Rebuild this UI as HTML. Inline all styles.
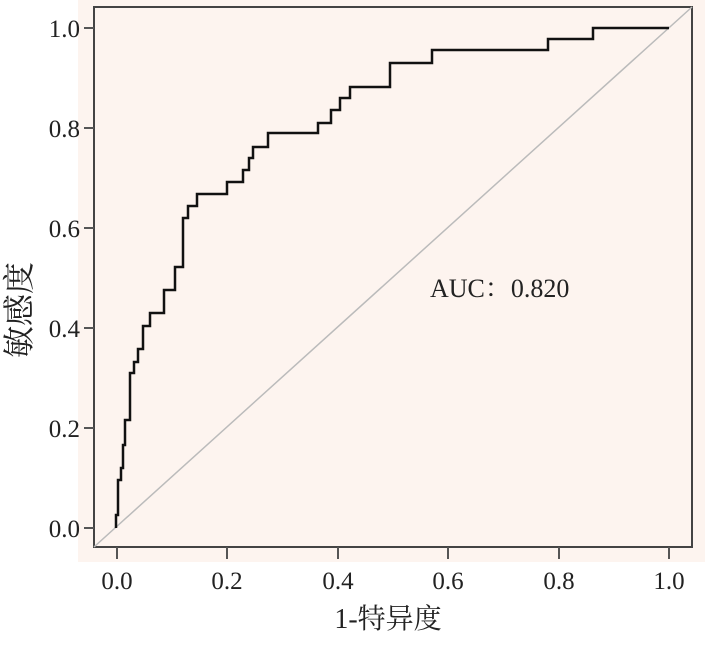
<!DOCTYPE html><html><head><meta charset="utf-8"><style>body{margin:0;background:#fff}svg text{font-family:"Liberation Serif","Noto Serif CJK SC",serif;fill:#222}</style></head><body>
<svg width="705" height="641" xmlns="http://www.w3.org/2000/svg">
<rect x="78" y="0" width="627" height="562" fill="#fdf4ef"/>
<rect x="94" y="7" width="598" height="540" fill="none" stroke="#444" stroke-width="2"/>
<line x1="94" y1="547" x2="692" y2="7" stroke="#bbb" stroke-width="1.5"/>
<polyline fill="none" stroke="#111" stroke-width="2.5" points="116,528 116,515 118,515 118,480 121,480 121,468 123,468 123,445 125,445 125,420 130,420 130,373 134,373 134,362 138,362 138,349 143,349 143,326 150,326 150,313 164,313 164,290 175,290 175,267 183,267 183,218 188,218 188,206 197,206 197,194 227,194 227,182 243,182 243,170 249,170 249,158 253,158 253,147 268,147 268,133 318,133 318,123 331,123 331,110 340,110 340,98 350,98 350,87 390,87 390,63 432,63 432,50 548,50 548,39 593,39 593,28 669,28"/>
<g stroke="#555" stroke-width="2">
<line x1="84" y1="28" x2="94" y2="28"/><line x1="84" y1="128" x2="94" y2="128"/><line x1="84" y1="228" x2="94" y2="228"/><line x1="84" y1="328" x2="94" y2="328"/><line x1="84" y1="428" x2="94" y2="428"/><line x1="84" y1="528" x2="94" y2="528"/>
<line x1="117" y1="547" x2="117" y2="559"/><line x1="227" y1="547" x2="227" y2="559"/><line x1="338" y1="547" x2="338" y2="559"/><line x1="448" y1="547" x2="448" y2="559"/><line x1="559" y1="547" x2="559" y2="559"/><line x1="669" y1="547" x2="669" y2="559"/>
</g>
<g font-size="25" text-anchor="end">
<text x="80" y="37">1.0</text><text x="80" y="137">0.8</text><text x="80" y="237">0.6</text><text x="80" y="337">0.4</text><text x="80" y="437">0.2</text><text x="80" y="537">0.0</text></g>
<g font-size="25" text-anchor="middle">
<text x="117" y="589">0.0</text><text x="227" y="589">0.2</text><text x="338" y="589">0.4</text><text x="448" y="589">0.6</text><text x="559" y="589">0.8</text><text x="669" y="589">1.0</text>
<text x="388" y="628" font-size="28">1-特异度</text>
<text transform="translate(30,310) rotate(-90)" font-size="32">敏感度</text></g>
<text x="430" y="297" font-size="26">AUC：0.820</text>
</svg></body></html>
